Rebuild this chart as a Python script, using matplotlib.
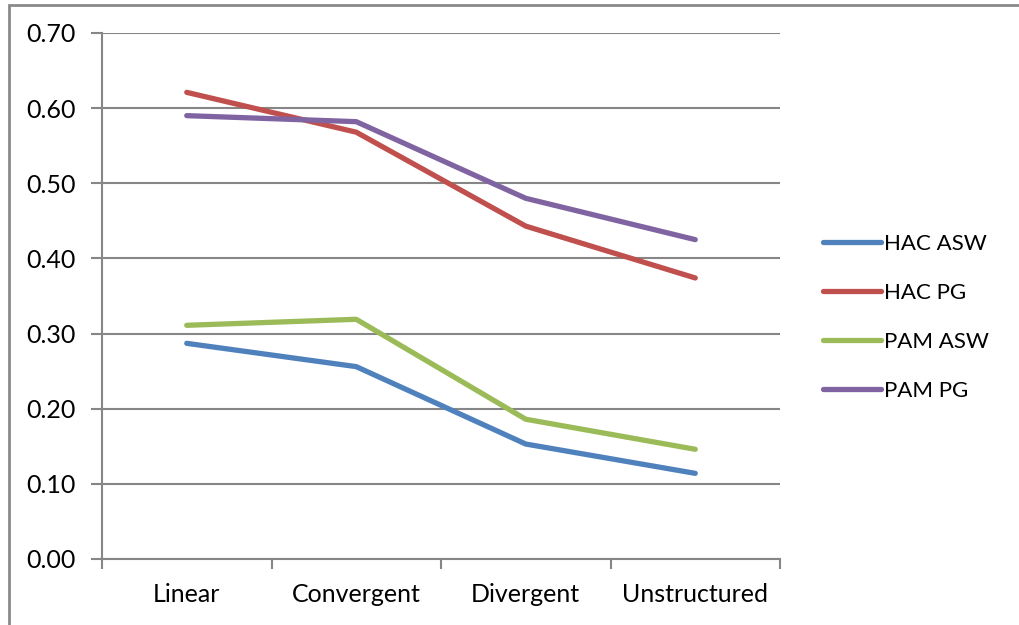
import matplotlib.pyplot as plt
from matplotlib.patches import Rectangle

categories = ['Linear', 'Convergent', 'Divergent', 'Unstructured']
hac_asw = [0.287, 0.256, 0.153, 0.114]
hac_pg = [0.621, 0.568, 0.443, 0.374]
pam_asw = [0.311, 0.319, 0.186, 0.146]
pam_pg = [0.590, 0.582, 0.480, 0.425]

series = [
    ('HAC ASW', hac_asw, '#4F81BD'),
    ('HAC PG', hac_pg, '#C0504D'),
    ('PAM ASW', pam_asw, '#9BBB59'),
    ('PAM PG', pam_pg, '#8064A2'),
]

plt.rcParams['font.family'] = ['Lato', 'DejaVu Sans']

fig = plt.figure(figsize=(10.2, 6.25), dpi=100)
ax = fig.add_axes([102 / 1020, 66 / 625, 678 / 1020, 526 / 625])

x = list(range(len(categories)))
for name, vals, color in series:
    ax.plot(x, vals, color=color, linewidth=3.8, solid_capstyle='round', label=name)

grid_col = '#868686'
ax.set_ylim(0, 0.7)
ax.set_xlim(-0.5, len(categories) - 0.5)
ax.set_yticks([i / 10 for i in range(8)])
ax.set_yticklabels([f'{i / 10:.2f}' for i in range(8)])
ax.yaxis.grid(True, color=grid_col, linewidth=1.5)
ax.set_axisbelow(True)

# category boundaries get the tick marks, names sit between them
ax.set_xticks([i - 0.5 for i in range(len(categories) + 1)])
ax.set_xticklabels([])
ax.set_xticks(x, minor=True)
ax.set_xticklabels(categories, minor=True)
ax.tick_params(axis='x', which='minor', length=0, pad=17, labelsize=18)
ax.tick_params(axis='x', which='major', length=7, width=1.5, color=grid_col)
ax.tick_params(axis='y', length=8, width=1.5, color=grid_col, pad=11, labelsize=18)

for side in ('top', 'right'):
    ax.spines[side].set_visible(False)
for side in ('left', 'bottom'):
    ax.spines[side].set_color(grid_col)
    ax.spines[side].set_linewidth(1.5)

fig.legend(loc='upper left', bbox_to_anchor=(803 / 1020, 1 - 214 / 625),
           frameon=False, fontsize=16, handlelength=2.6, handletextpad=0.15,
           labelspacing=1.3)

# outer chart frame
fig.patches.append(Rectangle((9 / 1020, -0.1), 1.2, 0.1 + 620 / 625,
                             transform=fig.transFigure, fill=False,
                             edgecolor='#8a8a8a', linewidth=2))

fig.savefig('out.png', dpi=100)
